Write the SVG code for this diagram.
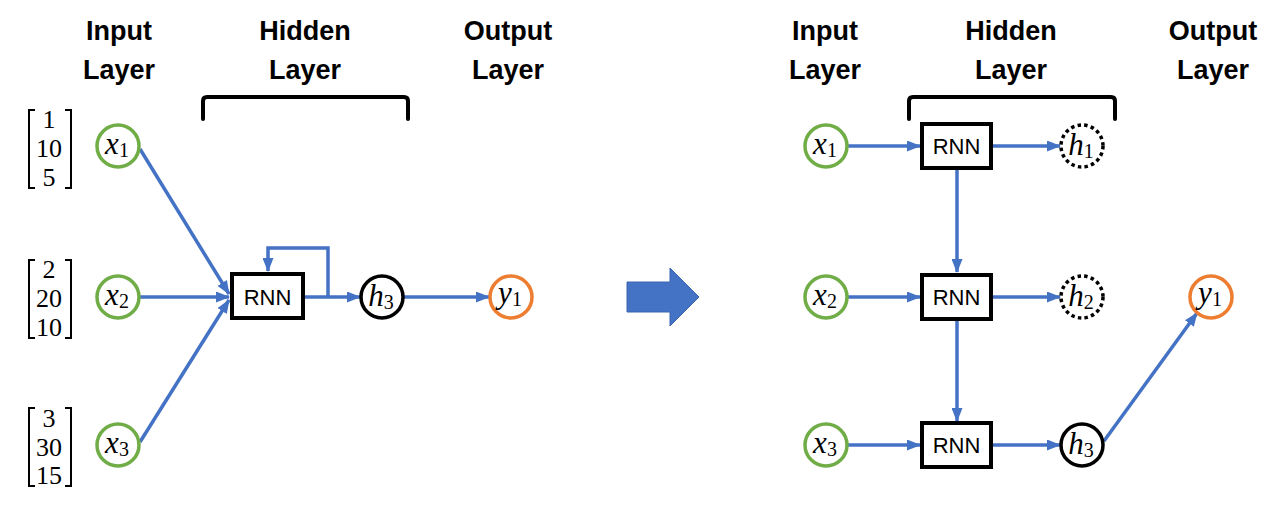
<svg xmlns="http://www.w3.org/2000/svg" width="1285" height="507" viewBox="0 0 1285 507">
<defs>
<marker id="ah" viewBox="0 0 14 11" refX="13" refY="5.5" markerWidth="14" markerHeight="11" markerUnits="userSpaceOnUse" orient="auto">
<path d="M0,0 L14,5.5 L0,11 z" fill="#4472C4"/>
</marker>
<style>
.title{font-family:"Liberation Sans",Arial,sans-serif;font-weight:bold;font-size:27px;fill:#000;text-anchor:middle}
.num{font-family:"Liberation Serif","Times New Roman",serif;font-size:26px;fill:#000;text-anchor:middle}
.var{font-family:"Liberation Serif","Times New Roman",serif;font-style:italic;font-size:31px;fill:#000;text-anchor:middle}
.sub{font-style:normal;font-size:20px}
.rnn{font-family:"Liberation Sans",Arial,sans-serif;font-size:22px;fill:#000;text-anchor:middle}
.in{fill:#fff;stroke:#70AD47;stroke-width:3.5}
.out{fill:#fff;stroke:#ED7D31;stroke-width:3.5}
.hid{fill:#fff;stroke:#000;stroke-width:3.5}
.dot{fill:#fff;stroke:#000;stroke-width:3.5;stroke-dasharray:3.5 3.2}
.box{fill:#fff;stroke:#000;stroke-width:4}
.brk{fill:none;stroke:#000;stroke-width:2}
.cb{fill:none;stroke:#000;stroke-width:4;stroke-linecap:round}
.c{fill:none;stroke:#4472C4;stroke-width:3.5;marker-end:url(#ah)}
</style>
</defs>
<rect width="1285" height="507" fill="#fff"/>

<g id="titles">
<text class="title" x="119" y="40">Input</text><text class="title" x="119" y="79">Layer</text>
<text class="title" x="305" y="40">Hidden</text><text class="title" x="305" y="79">Layer</text>
<text class="title" x="508" y="40">Output</text><text class="title" x="508" y="79">Layer</text>
<text class="title" x="825" y="40">Input</text><text class="title" x="825" y="79">Layer</text>
<text class="title" x="1011" y="40">Hidden</text><text class="title" x="1011" y="79">Layer</text>
<text class="title" x="1213" y="40">Output</text><text class="title" x="1213" y="79">Layer</text>
</g>

<g id="hidden-braces">
<path class="cb" d="M203,119 V101 Q203,97 207,97 H404 Q408,97 408,101 V119"/>
<path class="cb" d="M909,119 V101 Q909,97 913,97 H1111 Q1115,97 1115,101 V119"/>
</g>

<g id="vectors">
<g id="vec1">
<path class="brk" d="M35,110 H29 V188 H35 M65,110 H71 V188 H65"/>
<text class="num" x="49" y="128">1</text><text class="num" x="49" y="157">10</text><text class="num" x="49" y="186">5</text>
</g>
<g id="vec2">
<path class="brk" d="M35,260 H29 V338 H35 M65,260 H71 V338 H65"/>
<text class="num" x="49" y="278">2</text><text class="num" x="49" y="307">20</text><text class="num" x="49" y="336">10</text>
</g>
<g id="vec3">
<path class="brk" d="M35,408 H29 V486 H35 M65,408 H71 V486 H65"/>
<text class="num" x="49" y="427">3</text><text class="num" x="49" y="456">30</text><text class="num" x="49" y="484">15</text>
</g>
</g>

<g id="connectors">
<path class="c" d="M140,149 L229,294"/>
<path class="c" d="M140,297 L229,297"/>
<path class="c" d="M140,442 L229,300"/>
<path class="c" d="M305,297 L360,297"/>
<path class="c" d="M328,297 V248 H268 V271"/>
<path class="c" d="M403,297 L489,297"/>
<path class="c" d="M847,146 L920,146"/>
<path class="c" d="M993,146 L1060,146"/>
<path class="c" d="M957,170 L957,272"/>
<path class="c" d="M847,297 L920,297"/>
<path class="c" d="M993,297 L1060,297"/>
<path class="c" d="M957,321 L957,421"/>
<path class="c" d="M847,445 L920,445"/>
<path class="c" d="M993,445 L1060,445"/>
<path class="c" d="M1104,441 L1197,313"/>
</g>

<g id="L-x1"><circle class="in" cx="118" cy="146" r="21"/><text class="var" x="117" y="154">x<tspan class="sub" dy="3">1</tspan></text></g>
<g id="L-x2"><circle class="in" cx="118" cy="297" r="21"/><text class="var" x="117" y="305">x<tspan class="sub" dy="3">2</tspan></text></g>
<g id="L-x3"><circle class="in" cx="118" cy="445" r="21"/><text class="var" x="117" y="453">x<tspan class="sub" dy="3">3</tspan></text></g>
<g id="L-rnn"><rect class="box" x="232" y="274" width="71" height="44"/><text class="rnn" x="267.5" y="305">RNN</text></g>
<g id="L-h3"><circle class="hid" cx="382" cy="297" r="21"/><text class="var" x="381" y="306">h<tspan class="sub" dy="3">3</tspan></text></g>
<g id="L-y1"><circle class="out" cx="511" cy="297" r="21"/><text class="var" x="510" y="303">y<tspan class="sub" dy="3">1</tspan></text></g>

<g id="big-arrow"><polygon points="627,282 670,282 670,268 699,297 670,326 670,312 627,312" fill="#4472C4" stroke="#3A64B0" stroke-width="1"/></g>

<g id="R-x1"><circle class="in" cx="826" cy="146" r="21"/><text class="var" x="825" y="154">x<tspan class="sub" dy="3">1</tspan></text></g>
<g id="R-x2"><circle class="in" cx="826" cy="297" r="21"/><text class="var" x="825" y="305">x<tspan class="sub" dy="3">2</tspan></text></g>
<g id="R-x3"><circle class="in" cx="826" cy="445" r="21"/><text class="var" x="825" y="453">x<tspan class="sub" dy="3">3</tspan></text></g>
<g id="R-rnn1"><rect class="box" x="922" y="124" width="69" height="44"/><text class="rnn" x="956.5" y="154">RNN</text></g>
<g id="R-rnn2"><rect class="box" x="922" y="275" width="69" height="44"/><text class="rnn" x="956.5" y="305">RNN</text></g>
<g id="R-rnn3"><rect class="box" x="922" y="423" width="69" height="44"/><text class="rnn" x="956.5" y="453">RNN</text></g>
<g id="R-h1"><circle class="dot" cx="1082" cy="146" r="21"/><text class="var" x="1081" y="155">h<tspan class="sub" dy="3">1</tspan></text></g>
<g id="R-h2"><circle class="dot" cx="1082" cy="297" r="21"/><text class="var" x="1081" y="306">h<tspan class="sub" dy="3">2</tspan></text></g>
<g id="R-h3"><circle class="hid" cx="1082" cy="445" r="21"/><text class="var" x="1081" y="454">h<tspan class="sub" dy="3">3</tspan></text></g>
<g id="R-y1"><circle class="out" cx="1211" cy="297" r="21"/><text class="var" x="1210" y="303">y<tspan class="sub" dy="3">1</tspan></text></g>
</svg>
